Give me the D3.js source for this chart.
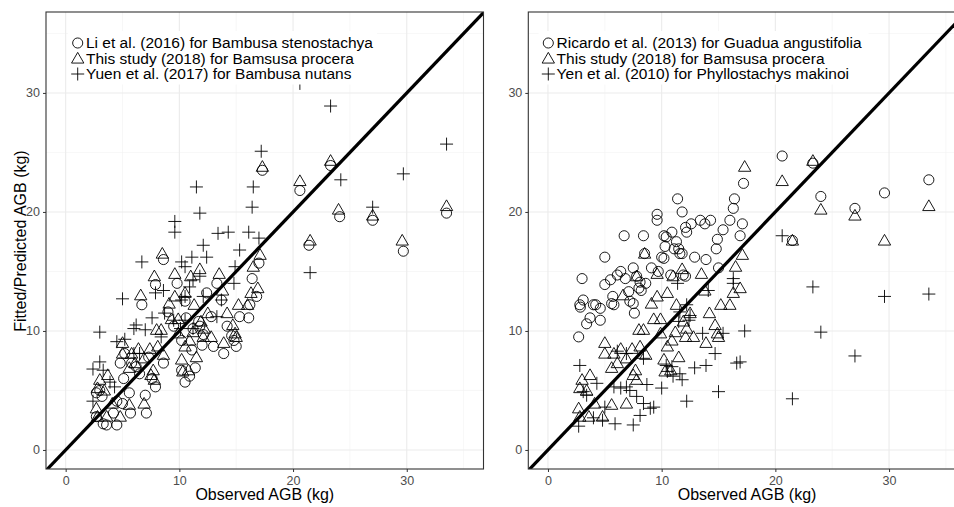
<!DOCTYPE html>
<html>
<head>
<meta charset="utf-8">
<script src="https://cdn.jsdelivr.net/npm/d3@7"></script>
<style>
  body { margin: 0; background: #fff; }
  svg { display: block; font-family: "Liberation Sans", Arial, sans-serif; }
</style>
</head>
<body>
<svg id="chart" width="954" height="507"></svg>
<script>
// [observed, predicted] in kg
const thisStudy = [
  [17.3, 23.8], [20.6, 22.6], [23.3, 24.3], [24.0, 20.2], [27.0, 19.7], [29.6, 17.6], [33.5, 20.5], [21.5, 17.6],
  [17.1, 16.4], [16.5, 15.4], [16.9, 13.6], [16.3, 13.2], [16.0, 12.2], [15.2, 12.2], [13.5, 14.8], [13.8, 13.4],
  [14.2, 11.5], [14.7, 10.5], [14.9, 9.8], [15.0, 9.5], [13.9, 9.0], [12.8, 9.5], [12.1, 9.5], [12.5, 11.5],
  [11.9, 10.8], [11.3, 12.2], [11.8, 15.2], [10.9, 9.2], [10.5, 13.2], [9.9, 11.0], [9.3, 11.0], [9.1, 12.3],
  [9.6, 12.9], [9.6, 14.8], [8.5, 16.5], [8.0, 10.1], [8.4, 10.1], [8.1, 8.7], [8.6, 8.0], [7.7, 6.7],
  [7.8, 5.9], [6.9, 3.9], [7.5, 6.3], [7.4, 8.5], [6.9, 7.7], [6.4, 8.5], [6.1, 7.3], [5.8, 8.1],
  [5.6, 6.9], [5.0, 9.0], [5.0, 8.1], [5.6, 3.8], [4.8, 2.8], [3.7, 6.3], [3.4, 5.0], [3.0, 5.9],
  [2.8, 5.2], [2.7, 3.5], [2.8, 2.8], [3.6, 2.8], [10.2, 7.6], [10.3, 6.6], [11.5, 7.8], [10.8, 6.7],
  [9.9, 9.8], [11.2, 9.9], [10.5, 8.7], [7.8, 14.6], [6.6, 13.0], [11.0, 14.6], [12.2, 10.2], [4.1, 3.9]
];

const liEtAl = [
  [20.6, 21.8], [23.3, 23.9], [24.1, 19.6], [27.0, 19.3], [29.7, 16.7], [33.5, 19.9], [21.4, 17.2], [17.3, 23.5],
  [17.0, 15.7], [16.4, 14.4], [16.8, 12.9], [16.2, 12.2], [16.1, 11.1], [15.0, 8.7], [14.8, 9.2], [14.2, 10.4],
  [13.9, 8.1], [13.0, 8.7], [12.8, 11.2], [12.0, 8.8], [12.1, 9.7], [11.8, 10.4], [11.7, 10.8], [11.1, 8.4],
  [11.4, 6.9], [10.9, 6.2], [10.5, 5.7], [10.2, 6.7], [10.2, 9.2], [9.5, 10.4], [9.0, 11.6], [9.8, 14.0],
  [8.6, 16.0], [7.9, 13.9], [6.7, 12.2], [8.6, 7.3], [7.9, 5.3], [7.6, 6.0], [7.1, 3.1], [7.0, 4.6],
  [6.5, 6.4], [5.8, 7.3], [5.7, 3.1], [4.5, 4.1], [4.5, 2.1], [3.6, 2.1], [3.3, 2.2], [2.7, 2.8],
  [3.0, 5.0], [2.7, 4.8], [4.8, 7.3], [5.1, 6.0], [13.3, 14.0], [12.4, 13.2], [10.5, 12.5], [10.6, 11.1],
  [5.2, 8.1], [3.2, 4.5], [6.2, 7.0], [7.3, 7.8], [11.2, 10.2], [14.6, 9.6], [5.6, 4.8], [4.2, 3.1],
  [5.0, 3.9], [13.7, 12.6], [15.3, 11.2]
];

const yuenEtAl = [
  [23.3, 28.9], [33.5, 25.7], [29.7, 23.2], [24.2, 22.7], [27.0, 20.4], [21.5, 14.9], [17.2, 25.1], [16.5, 22.1],
  [16.4, 20.4], [16.1, 18.3], [17.0, 17.8], [15.3, 16.8], [14.9, 15.4], [14.8, 14.0], [11.5, 22.1], [11.8, 19.9],
  [9.6, 19.2], [9.6, 18.3], [12.1, 17.2], [12.4, 16.2], [13.4, 18.2], [14.3, 18.3], [11.1, 16.2], [10.2, 15.8],
  [10.5, 15.4], [6.7, 15.8], [7.9, 13.2], [8.6, 13.4], [5.0, 12.7], [3.0, 9.9], [6.0, 10.2], [6.2, 10.5],
  [7.0, 10.1], [7.6, 11.1], [5.2, 9.3], [4.5, 9.1], [2.4, 6.8], [3.0, 7.4], [3.3, 6.7], [3.9, 5.7],
  [2.4, 4.1], [4.3, 5.3], [6.0, 8.1], [6.5, 8.1], [9.5, 10.9], [10.2, 12.6], [10.5, 12.9], [10.9, 13.7],
  [11.2, 14.3], [11.8, 14.6], [12.1, 12.9], [13.7, 12.6], [13.3, 11.2], [8.7, 11.5], [8.4, 9.5], [10.1, 10.2],
  [10.5, 10.9], [11.2, 10.2], [20.6, 30.8]
];

const ricardoEtAl = [
  [2.7, 9.5], [3.0, 14.4], [2.8, 12.2], [2.85, 12.0], [3.1, 12.6], [3.4, 10.6], [3.7, 11.1], [4.0, 12.2],
  [4.2, 12.2], [4.6, 11.9], [4.6, 10.9], [5.0, 16.2], [5.0, 13.9], [5.5, 14.3], [5.7, 12.9], [5.6, 12.3],
  [5.8, 12.2], [6.1, 14.7], [6.4, 15.0], [6.7, 18.0], [6.8, 14.4], [7.1, 13.3], [7.2, 12.5], [7.5, 12.3],
  [7.5, 15.3], [7.6, 11.5], [7.8, 14.6], [8.0, 13.6], [8.1, 14.1], [8.2, 13.4], [8.4, 18.0], [8.5, 16.5],
  [8.6, 14.0], [9.1, 15.3], [9.6, 19.8], [9.6, 19.3], [9.7, 15.0], [10.0, 16.2], [10.2, 18.0], [10.3, 17.1],
  [10.4, 17.9], [10.2, 16.1], [10.8, 14.7], [10.9, 18.3], [11.1, 16.9], [11.3, 17.5], [11.4, 21.1], [11.5, 16.9],
  [11.8, 20.0], [11.8, 16.5], [11.9, 14.7], [12.1, 18.7], [12.2, 18.3], [12.6, 19.0], [12.9, 16.2], [13.4, 19.3],
  [13.8, 19.0], [13.9, 16.0], [14.3, 19.3], [14.8, 16.9], [14.9, 17.7], [15.0, 15.3], [15.4, 18.5], [16.0, 19.3],
  [16.3, 20.3], [16.4, 21.1], [17.1, 19.0], [16.9, 18.0], [17.2, 22.4], [20.6, 24.7], [23.3, 24.1], [24.0, 21.3],
  [27.0, 20.3], [29.6, 21.6], [33.5, 22.7], [21.5, 17.6], [11.6, 16.5], [12.1, 14.6]
];

const yenEtAl = [
  [20.6, 18.0], [23.3, 13.7], [24.0, 9.9], [27.0, 7.9], [29.6, 12.9], [33.5, 13.1], [21.5, 4.3], [17.3, 10.0],
  [16.9, 7.4], [16.6, 7.3], [15.0, 4.9], [14.7, 8.1], [16.3, 14.0], [16.3, 14.4], [13.9, 7.1], [12.9, 6.9],
  [12.2, 4.1], [11.8, 5.9], [11.6, 6.4], [10.9, 7.0], [10.5, 6.6], [10.0, 5.2], [11.4, 14.0], [11.6, 11.6],
  [12.2, 12.2], [12.5, 11.3], [12.4, 10.9], [11.5, 10.8], [14.1, 13.4], [13.6, 9.8], [15.4, 9.8], [8.4, 7.7],
  [8.7, 5.5], [9.3, 3.6], [8.4, 3.9], [8.1, 2.9], [7.5, 2.1], [7.8, 4.5], [6.9, 5.3], [6.4, 5.2],
  [5.9, 2.2], [5.8, 5.3], [5.0, 3.6], [4.3, 5.6], [3.4, 4.6], [2.8, 7.1], [3.1, 4.9], [2.7, 2.0],
  [4.0, 2.7], [4.8, 2.5], [6.1, 8.3], [6.9, 8.1], [10.4, 7.1], [11.0, 6.2], [7.2, 5.0], [9.0, 3.5]
];

const ticks = [0, 10, 20, 30];
const minorTicks = [5, 15, 25, 35];

const panels = [
  { left: 46, legendX: 68, legendWidth: 309, yTitle: true, series: [
      { name: 'Li et al. (2016) for Bambusa stenostachya', shape: 'circle', data: liEtAl },
      { name: 'This study (2018) for Bamsusa procera', shape: 'triangle', data: thisStudy },
      { name: 'Yuen et al. (2017) for Bambusa nutans', shape: 'plus', data: yuenEtAl }
    ] },
  { left: 528.3, legendX: 538.6, legendWidth: 330, yTitle: false, series: [
      { name: 'Ricardo et al. (2013) for Guadua angustifolia', shape: 'circle', data: ricardoEtAl },
      { name: 'This study (2018) for Bamsusa procera', shape: 'triangle', data: thisStudy },
      { name: 'Yen et al. (2010) for Phyllostachys makinoi', shape: 'plus', data: yenEtAl }
    ] }
];

const panelW = 437.5, panelTop = 12, panelBottom = 469;
const svg = d3.select('#chart');
const ink = '#000';

const plusSymbol = {
  draw(ctx, size) {
    const r = Math.sqrt(size) / 2;
    ctx.moveTo(-r, 0); ctx.lineTo(r, 0);
    ctx.moveTo(0, -r); ctx.lineTo(0, r);
  }
};
const shapePath = {
  circle: d3.symbol().type(d3.symbolCircle).size(80)(),
  triangle: d3.symbol().type(d3.symbolTriangle).size(66)(),
  plus: d3.symbol().type(plusSymbol).size(169)()
};

const y = d3.scaleLinear().domain([-1.6, 36.8]).range([panelBottom, panelTop]);

panels.forEach((p, i) => {
  const x = d3.scaleLinear().domain([-1.73, 36.75]).range([p.left, p.left + panelW]);
  const g = svg.append('g');

  g.append('clipPath').attr('id', `clip${i}`)
    .append('rect').attr('x', p.left).attr('y', panelTop).attr('width', panelW).attr('height', panelBottom - panelTop);

  const body = g.append('g').attr('clip-path', `url(#clip${i})`);

  // grid
  body.selectAll('.minx').data(minorTicks).join('line')
    .attr('x1', d => x(d)).attr('x2', d => x(d)).attr('y1', panelTop).attr('y2', panelBottom)
    .attr('stroke', '#f2f2f2').attr('stroke-width', 0.6);
  body.selectAll('.miny').data(minorTicks).join('line')
    .attr('y1', d => y(d)).attr('y2', d => y(d)).attr('x1', p.left).attr('x2', p.left + panelW)
    .attr('stroke', '#f2f2f2').attr('stroke-width', 0.6);
  body.selectAll('.majx').data(ticks).join('line')
    .attr('x1', d => x(d)).attr('x2', d => x(d)).attr('y1', panelTop).attr('y2', panelBottom)
    .attr('stroke', '#ebebeb').attr('stroke-width', 1.1);
  body.selectAll('.majy').data(ticks).join('line')
    .attr('y1', d => y(d)).attr('y2', d => y(d)).attr('x1', p.left).attr('x2', p.left + panelW)
    .attr('stroke', '#ebebeb').attr('stroke-width', 1.1);

  // points
  p.series.forEach(s => {
    body.append('g').selectAll('path').data(s.data).join('path')
      .attr('transform', d => `translate(${x(d[0])},${y(d[1]) + (s.shape === 'triangle' ? 1 : 0)})`)
      .attr('d', shapePath[s.shape])
      .attr('fill', 'none').attr('stroke', ink).attr('stroke-width', 0.9);
  });

  // 1:1 line
  body.append('line')
    .attr('x1', x(-5)).attr('y1', y(-5)).attr('x2', x(40)).attr('y2', y(40))
    .attr('stroke', ink).attr('stroke-width', 3.2);

  // legend
  const lg = body.append('g').attr('transform', `translate(${p.legendX},31)`);
  lg.append('rect').attr('width', p.legendWidth).attr('height', 53.5).attr('fill', '#fff');
  p.series.forEach((s, k) => {
    const cy = 12 + k * 15.5;
    lg.append('path').attr('transform', `translate(9.7,${cy + (s.shape === 'triangle' ? 1 : 0)})`)
      .attr('d', shapePath[s.shape])
      .attr('fill', 'none').attr('stroke', ink).attr('stroke-width', 0.9);
    lg.append('text').attr('x', 18).attr('y', cy + 5.3).attr('font-size', 15.5).attr('fill', ink).text(s.name);
  });

  // border
  g.append('rect').attr('x', p.left).attr('y', panelTop).attr('width', panelW).attr('height', panelBottom - panelTop)
    .attr('fill', 'none').attr('stroke', '#333').attr('stroke-width', 1.1);

  // axes
  const xAxis = g.append('g').attr('transform', `translate(0,${panelBottom})`)
    .call(d3.axisBottom(x).tickValues(ticks).tickSize(3).tickPadding(4).tickFormat(d3.format('d')));
  const yAxis = g.append('g').attr('transform', `translate(${p.left},0)`)
    .call(d3.axisLeft(y).tickValues(ticks).tickSize(3).tickPadding(3).tickFormat(d3.format('d')));
  [xAxis, yAxis].forEach(a => {
    a.select('.domain').remove();
    a.selectAll('.tick line').attr('stroke', '#333');
    a.selectAll('.tick text').attr('fill', '#4d4d4d').attr('font-size', 12.5)
      .attr('font-family', '"Liberation Sans", Arial, sans-serif');
  });

  g.append('text').attr('x', p.left + panelW / 2).attr('y', 500).attr('text-anchor', 'middle')
    .attr('font-size', 16).attr('fill', ink).text('Observed AGB (kg)');

  if (p.yTitle) {
    g.append('text').attr('transform', 'translate(26,241) rotate(-90)').attr('text-anchor', 'middle')
      .attr('font-size', 16).attr('fill', ink).text('Fitted/Predicted AGB (kg)');
  }
});
</script>
</body>
</html>
